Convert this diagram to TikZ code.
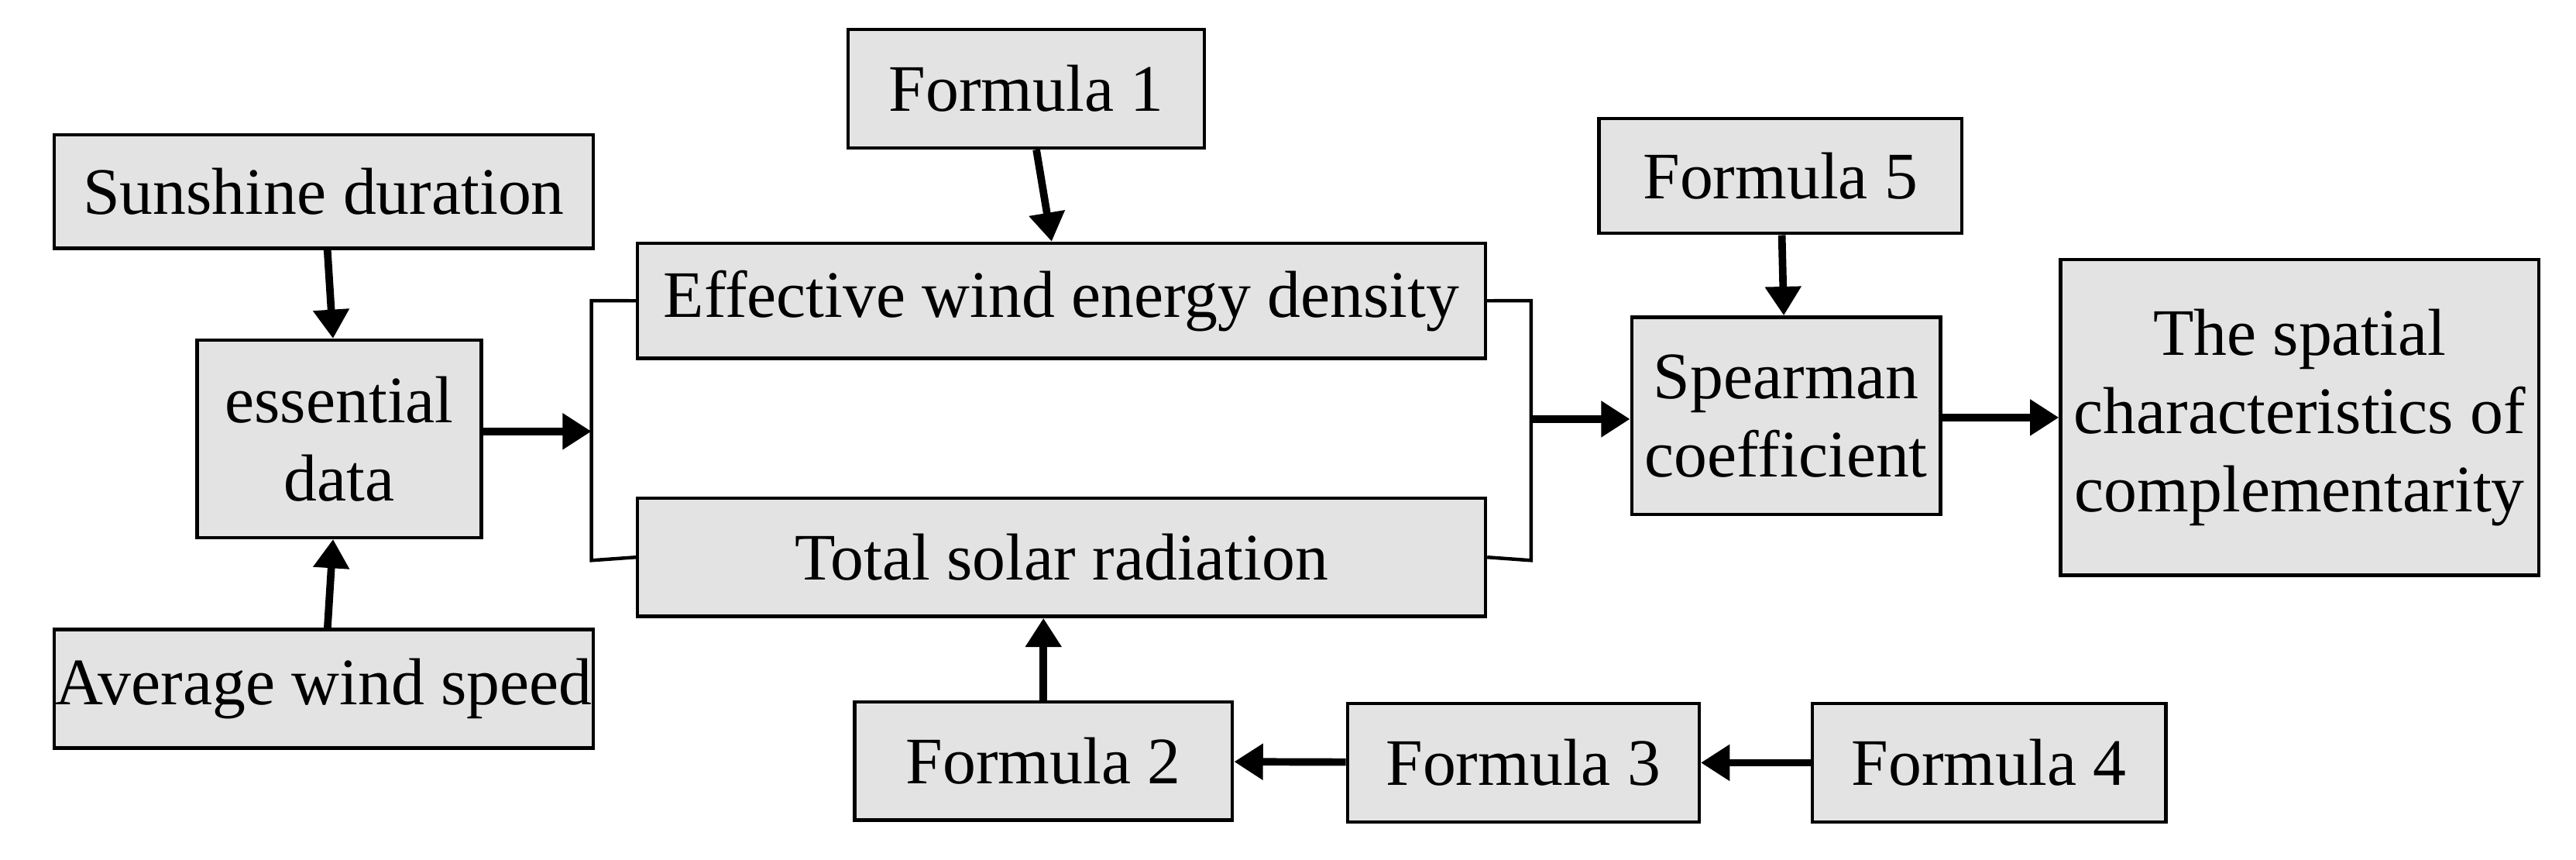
\documentclass[tikz,border=0pt]{standalone}
\usepackage{fontspec}
\setmainfont{Liberation Serif}
\usetikzlibrary{arrows.meta}
\tikzset{bx/.style={draw,line width=1.2pt,fill=gray!22,inner sep=0pt,align=center,font=\fontsize{23}{27}\selectfont},
ar/.style={line width=2.6pt,-{Triangle[length=10pt,width=12pt]}},
ln/.style={line width=1.2pt}}
\newcommand{\bxat}[6]{\node[bx,minimum width=#4*0.02cm,minimum height=#5*0.02cm] (#1) at (#2*0.02,-#3*0.02) {#6};}
\begin{document}
\begin{tikzpicture}
\useasboundingbox (0,0) rectangle (31.36,-10.46);
\bxat{f1}{624.5}{54}{217}{72}{Formula 1}
\bxat{sun}{197}{116.5}{328}{69}{Sunshine duration}
\bxat{ess}{206.5}{267}{173}{120}{essential\\data}
\bxat{avg}{197}{419}{328}{72}{Average wind speed}
\bxat{eff}{646}{183}{516}{70}{Effective wind energy density}
\bxat{tot}{646}{339}{516}{72}{Total solar radiation}
\bxat{f5}{1083.5}{107}{221}{70}{Formula 5}
\bxat{sp}{1087}{253}{188}{120}{Spearman\\coefficient}
\bxat{spa}{1399.5}{254}{291}{192}{The spatial\\characteristics of\\complementarity}
\bxat{f2}{635}{463}{230}{72}{Formula 2}
\bxat{f3}{927}{464}{214}{72}{Formula 3}
\bxat{f4}{1210.5}{464}{215}{72}{Formula 4}
\coordinate (lb) at (7.2,-5.25);
\coordinate (rb) at (18.64,-5.1);
\draw[ln] (eff.west) -- (7.2,-3.66) -- (7.2,-6.82) -- (tot.west);
\draw[ln] (eff.east) -- (18.64,-3.66) -- (18.64,-6.82) -- (tot.east);
\draw[ar] (f1) -- (eff);
\draw[ar] (sun) -- (ess);
\draw[ar] (avg) -- (ess);
\draw[ar] (ess.east |- lb) -- (lb);
\draw[ar] (rb) -- (sp.west |- rb);
\draw[ar] (f5) -- (sp);
\draw[ar] (sp.east |- spa) -- (spa.west);
\draw[ar] (f2) -- (tot.south -| f2);
\draw[ar] (f3) -- (f2);
\draw[ar] (f4) -- (f3);
\end{tikzpicture}
\end{document}
